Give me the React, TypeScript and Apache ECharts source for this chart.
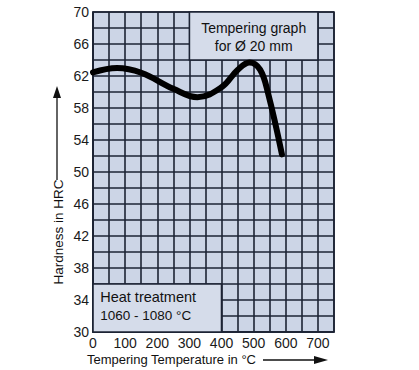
import React, { useEffect, useRef } from "react";
import * as echarts from "echarts";

const temps = [0, 75, 150, 250, 325, 400, 450, 487, 520, 545, 588];
const hardness = [62.45, 63.0, 62.4, 60.4, 59.35, 60.6, 62.75, 63.7, 62.8, 59.8, 52.2];
const xTickLabels = [0, 100, 200, 300, 400, 500, 600, 700];
const yTickLabels = [30, 34, 38, 42, 46, 50, 54, 58, 62, 66, 70];
const titleBox = { x: [300, 700], y: [64, 70], lines: ["Tempering graph", "for Ø 20 mm"] };
const heatBox = { x: [0, 400], y: [30, 36], lines: ["Heat treatment", "1060 - 1080 °C"] };
const xTitle = "Tempering Temperature in °C";
const yTitle = "Hardness in HRC";

const FONT = "'Liberation Sans', Arial, Helvetica, sans-serif";
const GRID_COLOR = "#1c2334";
const BG = "#ccd5e6";
const BOX_BG = "#d5dcea";

export default function App() {
  const ref = useRef<HTMLDivElement>(null);
  useEffect(() => {
    if (!ref.current) return;
    const chart = echarts.init(ref.current, null, { renderer: "svg" });
    const option: any = {
      animation: false,
      backgroundColor: "#ffffff",
      textStyle: { fontFamily: FONT },
      grid: {
        left: 93,
        top: 12,
        width: 241,
        height: 320,
        show: true,
        backgroundColor: BG,
        borderColor: GRID_COLOR,
        borderWidth: 1.6,
      },
      xAxis: {
        type: "value",
        min: 0,
        max: 750,
        interval: 50,
        axisLine: { show: true, lineStyle: { color: GRID_COLOR, width: 1.6 } },
        axisTick: { show: false },
        splitLine: { show: true, lineStyle: { color: GRID_COLOR, width: 1.6 } },
        axisLabel: {
          margin: 4,
          fontSize: 14,
          color: "#1a1a1a",
          fontFamily: FONT,
          formatter: (v: number) => (xTickLabels.includes(v) ? String(v) : ""),
        },
      },
      yAxis: {
        type: "value",
        min: 30,
        max: 70,
        interval: 2,
        axisLine: { show: true, lineStyle: { color: GRID_COLOR, width: 1.6 } },
        axisTick: { show: false },
        splitLine: { show: true, lineStyle: { color: GRID_COLOR, width: 1.6 } },
        axisLabel: {
          margin: 4,
          fontSize: 14,
          color: "#1a1a1a",
          fontFamily: FONT,
          formatter: (v: number) => (yTickLabels.includes(v) ? String(v) : ""),
        },
      },
      series: [
        {
          type: "line",
          data: temps.map((t, i) => [t, hardness[i]]),
          smooth: 0.4,
          showSymbol: false,
          symbol: "none",
          lineStyle: { color: "#000000", width: 6, cap: "round", join: "round" },
          z: 5,
          markArea: {
            silent: true,
            z: 1,
            itemStyle: { color: BOX_BG, borderColor: GRID_COLOR, borderWidth: 1.6 },
            data: [
              [
                {
                  coord: [titleBox.x[0], titleBox.y[1]],
                  label: {
                    show: true,
                    position: "inside",
                    formatter: titleBox.lines.join("\n"),
                    fontSize: 14,
                    lineHeight: 18,
                    color: "#111",
                    fontFamily: FONT,
                    align: "center",
                    offset: [0, 1],
                  },
                },
                { coord: [titleBox.x[1], titleBox.y[0]] },
              ],
              [
                {
                  coord: [heatBox.x[0], heatBox.y[1]],
                  label: {
                    show: true,
                    position: "insideLeft",
                    formatter: `{a|${heatBox.lines[0]}}\n{b|${heatBox.lines[1]}}`,
                    color: "#111",
                    fontFamily: FONT,
                    distance: 8,
                    offset: [0, -2],
                    rich: {
                      a: { fontSize: 14.5, lineHeight: 19, fontFamily: FONT, color: "#111" },
                      b: { fontSize: 13.5, lineHeight: 18, fontFamily: FONT, color: "#111" },
                    },
                  },
                },
                { coord: [heatBox.x[1], heatBox.y[0]] },
              ],
            ],
          },
        },
      ],
      graphic: [
        {
          type: "text",
          x: 58,
          y: 232,
          rotation: Math.PI / 2,
          style: {
            text: yTitle,
            fontSize: 13.5,
            fontFamily: FONT,
            fill: "#111",
            align: "center",
            verticalAlign: "middle",
          },
        },
        {
          type: "line",
          shape: { x1: 57, y1: 180, x2: 57, y2: 96 },
          style: { stroke: "#111", lineWidth: 1.3 },
        },
        {
          type: "polygon",
          shape: { points: [[57, 86], [53, 98], [61, 98]] },
          style: { fill: "#111" },
        },
        {
          type: "text",
          x: 87,
          y: 359,
          style: {
            text: xTitle,
            fontSize: 13,
            fontFamily: FONT,
            fill: "#111",
            align: "left",
            verticalAlign: "middle",
          },
        },
        {
          type: "line",
          shape: { x1: 263, y1: 360, x2: 316, y2: 360 },
          style: { stroke: "#111", lineWidth: 1.3 },
        },
        {
          type: "polygon",
          shape: { points: [[328, 360], [314, 356], [314, 364]] },
          style: { fill: "#111" },
        },
      ],
    };
    chart.setOption(option);
    return () => chart.dispose();
  }, []);
  return (
    <div
      ref={ref}
      style={{ position: "absolute", left: 0, top: 0, width: 419, height: 370 }}
    />
  );
}
